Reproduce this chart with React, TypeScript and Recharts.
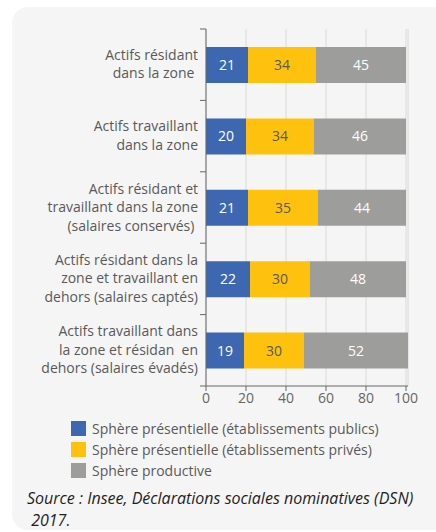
import React from "react";
import {
  BarChart,
  Bar,
  XAxis,
  YAxis,
  CartesianGrid,
  LabelList,
} from "recharts";

const categories = [
  "Actifs résidant\ndans la zone\u00a0",
  "Actifs travaillant\ndans la zone",
  "Actifs résidant et\ntravaillant dans la zone\n(salaires conservés)\u00a0",
  "Actifs résidant dans la\nzone et travaillant en\ndehors (salaires captés)",
  "Actifs travaillant dans\nla zone et résidan\u00a0 en\ndehors (salaires évadés)",
];
const publics = [21, 20, 21, 22, 19];
const prives = [34, 34, 35, 30, 30];
const productive = [45, 46, 44, 48, 52];
const xTicks = [0, 20, 40, 60, 80, 100];

const seriesNames = [
  "Sphère présentielle (établissements publics)",
  "Sphère présentielle (établissements privés)",
  "Sphère productive",
];
const colors = ["#3d67b1", "#fec20e", "#9d9d9b"];

const data = categories.map((cat, i) => ({
  cat,
  publics: publics[i],
  prives: prives[i],
  productive: productive[i],
}));

const FONT = "'Open Sans', 'Noto Sans', sans-serif";

// category label, plus the tick marks that sit on band boundaries
const CatTick = (props: any) => {
  const { x, y, payload, index } = props;
  const lines = String(payload.value).split("\n");
  const half = payload.offset ?? 35.7;
  const lh = 18.5;
  const start = -((lines.length - 1) * lh) / 2 + 4.5;
  return (
    <g>
      <line x1={x + 2} x2={x + 8} y1={y - half} y2={y - half} stroke="#666" />
      {index === categories.length - 1 && (
        <line x1={x + 2} x2={x + 8} y1={y + half} y2={y + half} stroke="#666" />
      )}
      <text x={x} y={y} textAnchor="end" fill="#595959" fontSize={14} fontFamily={FONT}>
        {lines.map((l, i) => (
          <tspan key={i} x={x} dy={i === 0 ? start : lh}>
            {l}
          </tspan>
        ))}
      </text>
    </g>
  );
};

export default function App() {
  return (
    <div
      style={{
        position: "absolute",
        left: 0,
        top: 0,
        width: 436,
        height: 532,
        background: "#fff",
        overflow: "hidden",
        fontFamily: FONT,
      }}
    >
      <div
        style={{
          position: "absolute",
          left: 12,
          top: 7,
          width: 440,
          height: 523,
          background: "#f5f5f5",
          borderRadius: 16,
        }}
      />
      <div style={{ position: "absolute", left: 0, top: 0 }}>
        <BarChart
          width={436}
          height={416}
          data={data}
          layout="vertical"
          margin={{ top: 29, right: 28, left: 0, bottom: 0 }}
          barSize={36}
        >
          <CartesianGrid horizontal={false} stroke="#dadada" />
          <XAxis
            type="number"
            domain={[0, 100]}
            ticks={xTicks}
            height={30}
            tickSize={5}
            axisLine={{ stroke: "#666" }}
            tickLine={{ stroke: "#666" }}
            tick={{ fill: "#666", fontSize: 14, fontFamily: FONT }}
          />
          <YAxis
            type="category"
            dataKey="cat"
            width={206}
            tickSize={6}
            tickMargin={2}
            tickLine={false}
            axisLine={{ stroke: "#666" }}
            tick={<CatTick />}
            interval={0}
          />
          <Bar dataKey="publics" stackId="a" fill={colors[0]} isAnimationActive={false}>
            <LabelList dataKey="publics" position="center" fill="#fff" fontSize={14} fontFamily={FONT} />
          </Bar>
          <Bar dataKey="prives" stackId="a" fill={colors[1]} isAnimationActive={false}>
            <LabelList dataKey="prives" position="center" fill="#595959" fontSize={14} fontFamily={FONT} />
          </Bar>
          <Bar dataKey="productive" stackId="a" fill={colors[2]} isAnimationActive={false}>
            <LabelList dataKey="productive" position="center" fill="#fff" fontSize={14} fontFamily={FONT} />
          </Bar>
        </BarChart>
      </div>

      {/* legend */}
      <div style={{ position: "absolute", left: 71, top: 418 }}>
        {seriesNames.map((n, i) => (
          <div key={n} style={{ display: "flex", alignItems: "center", height: 21 }}>
            <span
              style={{
                display: "inline-block",
                width: 15,
                height: 15,
                background: colors[i],
                marginRight: 6,
              }}
            />
            <span style={{ fontSize: 14, color: "#595959" }}>{n}</span>
          </div>
        ))}
      </div>

      {/* source */}
      <div
        style={{
          position: "absolute",
          left: 27,
          top: 487,
          fontSize: 16,
          fontStyle: "italic",
          color: "#1e1e1e",
          lineHeight: "22px",
          whiteSpace: "nowrap",
        }}
      >
        Source : Insee, Déclarations sociales nominatives (DSN)
        <br />
        &nbsp;2017.
      </div>
    </div>
  );
}
